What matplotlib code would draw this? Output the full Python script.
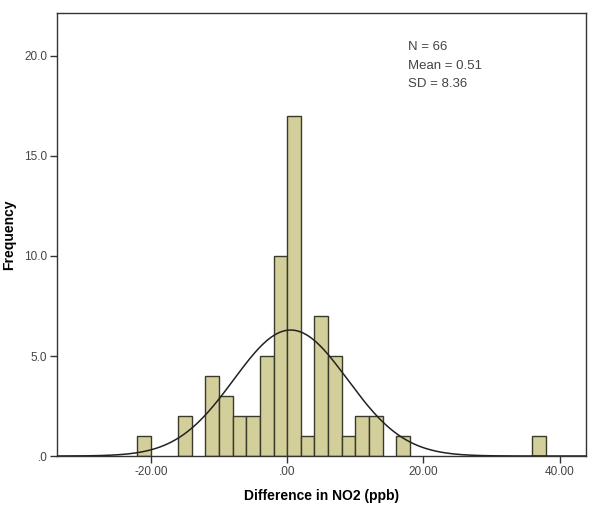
import numpy as np
import matplotlib
matplotlib.use("Agg")
import matplotlib.pyplot as plt

# histogram bins (left edge, width 2) and counts
bin_lefts = [-22, -16, -12, -10, -8, -6, -4, -2, 0, 2, 4, 6, 8, 10, 12, 16, 36]
counts = [1, 2, 4, 3, 2, 2, 5, 10, 17, 1, 7, 5, 1, 2, 2, 1, 1]
bin_width = 2.0

n_obs = 66
mean = 0.51
sd = 8.36

x_ticks = [-20, 0, 20, 40]
x_tick_labels = ["-20.00", ".00", "20.00", "40.00"]
y_ticks = [0, 5, 10, 15, 20]
y_tick_labels = [".0", "5.0", "10.0", "15.0", "20.0"]

plt.rcParams["font.family"] = ["Liberation Sans", "DejaVu Sans"]

fig = plt.figure(figsize=(6.0, 5.11), dpi=100)
ax = fig.add_axes([0.095, 0.1076, 0.882, 0.867])

ax.bar(bin_lefts, counts, width=bin_width, align="edge",
       color="#D3CF9A", edgecolor="#3a3a2a", linewidth=1.0, zorder=2)

xlim = (-33.8, 43.9)
xs = np.linspace(xlim[0], xlim[1], 400)
scale = n_obs * bin_width / (sd * np.sqrt(2 * np.pi))
ax.plot(xs, scale * np.exp(-0.5 * ((xs - mean) / sd) ** 2),
        color="#222222", linewidth=1.1, zorder=3)

ax.set_xlim(*xlim)
ax.set_ylim(0, 22.15)
ax.set_xticks(x_ticks)
ax.set_xticklabels(x_tick_labels)
ax.set_yticks(y_ticks)
ax.set_yticklabels(y_tick_labels)
ax.tick_params(direction="out", length=5, width=1, labelsize=8.5,
               labelcolor="#444444", color="#333333", pad=2)

for sp in ax.spines.values():
    sp.set_color("#333333")
    sp.set_linewidth(1.0)

ax.set_xlabel("Difference in NO2 (ppb)", fontsize=10, fontweight="bold", labelpad=8)
ax.set_ylabel("Frequency", fontsize=10, fontweight="bold", labelpad=6)

ax.text(0.663, 0.937, f"N = {n_obs}\nMean = {mean:.2f}\nSD = {sd:.2f}",
        transform=ax.transAxes, ha="left", va="top", fontsize=9.5,
        color="#444444", linespacing=1.75)

fig.savefig("out.png", dpi=100)
